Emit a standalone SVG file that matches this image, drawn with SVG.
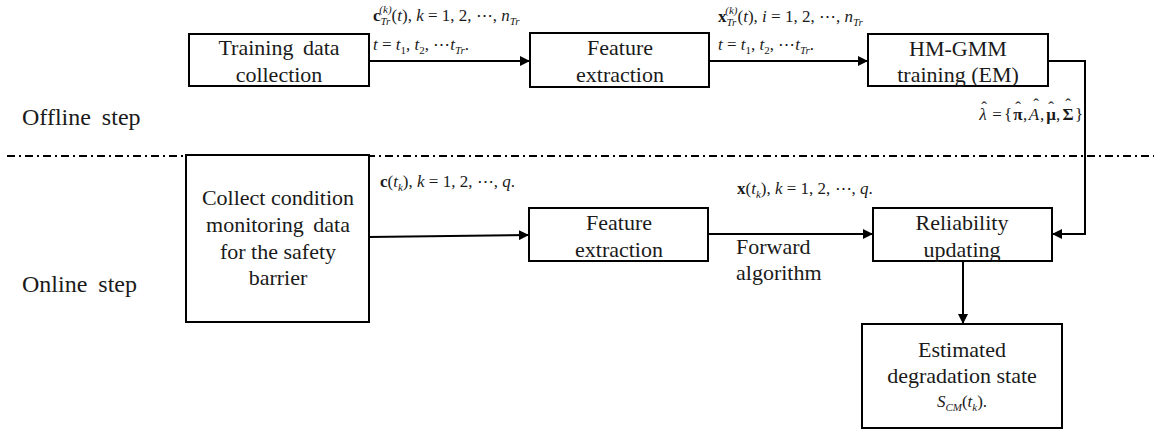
<svg xmlns="http://www.w3.org/2000/svg" width="1154" height="430" viewBox="0 0 1154 430">
<style>
.box{fill:#fff;stroke:#000;stroke-width:2}
.t{font-family:'Liberation Serif','DejaVu Serif',serif;font-size:22px;fill:#1a1a1a;text-anchor:middle}
.side{font-family:'Liberation Serif','DejaVu Serif',serif;font-size:24px;fill:#1a1a1a;word-spacing:5px}
.m{font-family:'Liberation Serif','DejaVu Serif',serif;font-size:17px;fill:#1a1a1a}
.mc{text-anchor:middle}
.i{font-style:italic}
.b{font-weight:bold}
.s{font-size:11px}
.c{fill:none;stroke:#000;stroke-width:2}
.dash{fill:none;stroke:#000;stroke-width:1.8;stroke-dasharray:8 4 2 4}
</style>
<defs>
<marker id="arr" viewBox="0 0 10 10" refX="10" refY="5" markerWidth="10" markerHeight="10" markerUnits="userSpaceOnUse" orient="auto">
<path d="M0,0 L10,5 L0,10 Z" fill="#000"/>
</marker>
</defs>

<text class="side" x="22" y="125">Offline step</text>
<text class="side" x="22" y="292">Online step</text>
<line class="dash" x1="7" y1="156" x2="1154" y2="156"/>

<g id="connectors">
<line class="c" x1="369" y1="61" x2="530" y2="61" marker-end="url(#arr)"/>
<line class="c" x1="709" y1="61" x2="868" y2="61" marker-end="url(#arr)"/>
<polyline class="c" points="1048,61 1085,61 1085,234 1052,234" marker-end="url(#arr)"/>
<line class="c" x1="369" y1="237" x2="529" y2="235" marker-end="url(#arr)"/>
<line class="c" x1="708" y1="234" x2="873" y2="234" marker-end="url(#arr)"/>
<line class="c" x1="963" y1="261" x2="963" y2="324" marker-end="url(#arr)"/>
</g>

<g id="labels">
<text class="m" x="373" y="21"><tspan class="b">c</tspan><tspan class="s i" dy="4">Tr</tspan><tspan class="s i" dx="-11" dy="-12">(k)</tspan><tspan dy="8">(</tspan><tspan class="i">t</tspan><tspan>), </tspan><tspan class="i">k</tspan><tspan> = 1, 2, ⋯, </tspan><tspan class="i">n</tspan><tspan class="s i" dy="4">Tr</tspan></text>
<text class="m" x="373" y="50"><tspan class="i">t</tspan><tspan> = </tspan><tspan class="i">t</tspan><tspan class="s" dy="4">1</tspan><tspan dy="-4">, </tspan><tspan class="i">t</tspan><tspan class="s" dy="4">2</tspan><tspan dy="-4">, ⋯</tspan><tspan class="i">t</tspan><tspan class="s i" dy="4">Tr</tspan><tspan dy="-4">.</tspan></text>
<text class="m" x="718" y="22"><tspan class="b">x</tspan><tspan class="s i" dy="4">Tr</tspan><tspan class="s i" dx="-11" dy="-12">(k)</tspan><tspan dy="8">(</tspan><tspan class="i">t</tspan><tspan>), </tspan><tspan class="i">i</tspan><tspan> = 1, 2, ⋯, </tspan><tspan class="i">n</tspan><tspan class="s i" dy="4">Tr</tspan></text>
<text class="m" x="718" y="50"><tspan class="i">t</tspan><tspan> = </tspan><tspan class="i">t</tspan><tspan class="s" dy="4">1</tspan><tspan dy="-4">, </tspan><tspan class="i">t</tspan><tspan class="s" dy="4">2</tspan><tspan dy="-4">, ⋯</tspan><tspan class="i">t</tspan><tspan class="s i" dy="4">Tr</tspan><tspan dy="-4">.</tspan></text>
<g id="lambda-label">
<text class="m mc i" x="983" y="120">λ</text>
<text class="m mc" x="997" y="120">=</text>
<text class="m mc" x="1008" y="120">{</text>
<text class="m mc b" x="1018" y="120">π</text>
<text class="m mc" x="1025" y="120">,</text>
<text class="m mc i" x="1034" y="120">A</text>
<text class="m mc" x="1042" y="120">,</text>
<text class="m mc b" x="1051" y="120">μ</text>
<text class="m mc" x="1058" y="120">,</text>
<text class="m mc b" x="1068" y="120">Σ</text>
<text class="m mc" x="1079" y="120">}</text>
<text class="m mc" x="984" y="113">ˆ</text>
<text class="m mc" x="1018" y="113">ˆ</text>
<text class="m mc" x="1036" y="110">ˆ</text>
<text class="m mc" x="1051" y="113">ˆ</text>
<text class="m mc" x="1068" y="110">ˆ</text>
</g>
<text class="m" x="380" y="187"><tspan class="b">c</tspan><tspan>(</tspan><tspan class="i">t</tspan><tspan class="s i" dy="4">k</tspan><tspan dy="-4">), </tspan><tspan class="i">k</tspan><tspan> = 1, 2, ⋯, </tspan><tspan class="i">q</tspan><tspan>.</tspan></text>
<text class="m" x="737" y="194"><tspan class="b">x</tspan><tspan>(</tspan><tspan class="i">t</tspan><tspan class="s i" dy="4">k</tspan><tspan dy="-4">), </tspan><tspan class="i">k</tspan><tspan> = 1, 2, ⋯, </tspan><tspan class="i">q</tspan><tspan>.</tspan></text>
<text class="t" x="736" y="254" style="text-anchor:start">Forward</text>
<text class="t" x="736" y="280" style="text-anchor:start">algorithm</text>
</g>

<g id="training-data">
<rect class="box" x="189" y="34" width="180" height="52"/>
<text class="t" x="279" y="55" style="word-spacing:4px">Training data</text>
<text class="t" x="279" y="82">collection</text>
</g>
<g id="feature-offline">
<rect class="box" x="530" y="33" width="179" height="54"/>
<text class="t" x="620" y="55">Feature</text>
<text class="t" x="620" y="82">extraction</text>
</g>
<g id="hmgmm">
<rect class="box" x="868" y="34" width="180" height="52"/>
<text class="t" x="958" y="56">HM-GMM</text>
<text class="t" x="958" y="82">training (EM)</text>
</g>
<g id="collect">
<rect class="box" x="186" y="155" width="183" height="167"/>
<text class="t" x="278" y="205">Collect condition</text>
<text class="t" x="278" y="232" style="word-spacing:4px">monitoring data</text>
<text class="t" x="278" y="259">for the safety</text>
<text class="t" x="278" y="285">barrier</text>
</g>
<g id="feature-online">
<rect class="box" x="529" y="208" width="179" height="53"/>
<text class="t" x="619" y="230">Feature</text>
<text class="t" x="619" y="257">extraction</text>
</g>
<g id="reliability">
<rect class="box" x="873" y="208" width="179" height="53"/>
<text class="t" x="962" y="230">Reliability</text>
<text class="t" x="962" y="257">updating</text>
</g>
<g id="estimated">
<rect class="box" x="862" y="324" width="200" height="104"/>
<text class="t" x="962" y="357">Estimated</text>
<text class="t" x="962" y="383">degradation state</text>
<text class="m" x="962" y="407" text-anchor="middle"><tspan class="i">S</tspan><tspan class="s i" dy="4">CM</tspan><tspan dy="-4">(</tspan><tspan class="i">t</tspan><tspan class="s i" dy="4">k</tspan><tspan dy="-4">).</tspan></text>
</g>
</svg>
